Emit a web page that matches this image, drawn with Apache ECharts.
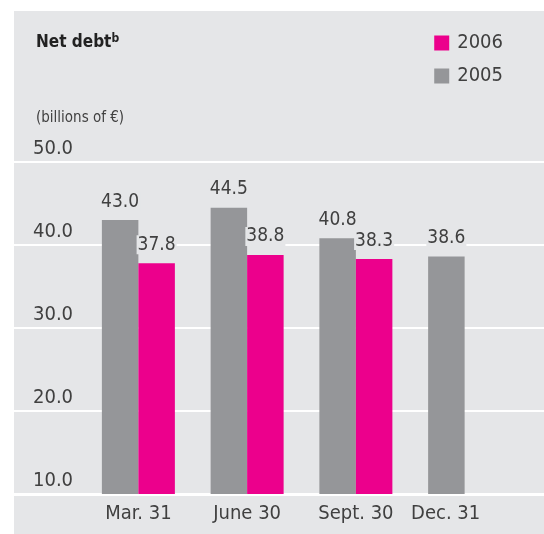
<!DOCTYPE html>
<html>
<head>
<meta charset="utf-8">
<script src="https://cdn.jsdelivr.net/npm/echarts@6/dist/echarts.min.js"></script>
<style>
  html, body { margin: 0; padding: 0; background: #fff; }
  #chart { width: 544px; height: 534px; }
</style>
</head>
<body>
<div id="chart"></div>
<script>
// data
var quarters = ['Mar. 31', 'June 30', 'Sept. 30', 'Dec. 31'];
var debt2005 = [43.0, 44.5, 40.8, 38.6];
var debt2006 = [37.8, 38.8, 38.3, null];
var yTicks = [10, 20, 30, 40, 50];

var FONT = '"Liberation Sans Narrow", "DejaVu Sans Condensed", sans-serif';
var TXT = '#404040';
var PANEL = '#e5e6e8';

var myChart = echarts.init(document.getElementById('chart'));

// the last label sits under the lone 2005 bar
var catData = quarters.map(function (q, i) {
    if (debt2006[i] == null) {
        return { value: q, textStyle: { padding: [0, 38, 0, 0] } };
    }
    return q;
});

function valueLabel() {
    return {
        show: true,
        position: 'top',
        distance: 9,
        fontFamily: FONT,
        fontSize: 19,
        color: TXT,
        backgroundColor: PANEL,
        padding: [0, 1, 0, 1],
        formatter: function (p) { return p.value == null ? '' : p.value.toFixed(1); }
    };
}

var option = {
    backgroundColor: '#fff',
    animation: false,
    textStyle: { fontFamily: FONT },
    graphic: [{
        type: 'rect',
        z: -10,
        shape: { x: 14, y: 11, width: 530, height: 523 },
        style: { fill: PANEL }
    }],
    title: [{
        text: '{a|Net debt}{b|b}',
        left: 31,
        top: 28,
        textStyle: {
            rich: {
                a: { fontFamily: FONT, fontWeight: 'bold', fontSize: 17, color: '#222' },
                b: { fontFamily: FONT, fontWeight: 'bold', fontSize: 12, color: '#222', verticalAlign: 'top', padding: [0, 0, 8, 0] }
            }
        }
    }, {
        text: '(billions of €)',
        left: 31,
        top: 106,
        textStyle: { fontFamily: FONT, fontWeight: 'normal', fontSize: 15, color: TXT }
    }],
    legend: {
        data: ['2006', '2005'],
        orient: 'vertical',
        right: 36,
        top: 28,
        itemWidth: 15,
        itemHeight: 15,
        itemGap: 13,
        icon: 'rect',
        textStyle: { fontFamily: FONT, fontSize: 20, color: TXT, padding: [0, 0, 0, 3] }
    },
    grid: [
        { left: 14, right: 0, top: 162, bottom: 40 },
        { left: 84, right: 25, top: 162, bottom: 40 }
    ],
    xAxis: [{
        gridIndex: 0,
        type: 'value',
        min: 0, max: 1,
        axisLine: { show: true, onZero: false, lineStyle: { color: '#fff', width: 3 } },
        axisTick: { show: false },
        axisLabel: { show: false },
        splitLine: { show: false }
    }, {
        gridIndex: 1,
        type: 'category',
        data: catData,
        axisLine: { show: false },
        axisTick: { show: false },
        splitLine: { show: false },
        axisLabel: { fontFamily: FONT, fontSize: 20, color: TXT, margin: 10, interval: 0 }
    }],
    yAxis: [{
        gridIndex: 0,
        type: 'value',
        min: yTicks[0],
        max: yTicks[yTicks.length - 1],
        interval: 10,
        axisLine: { show: false },
        axisTick: { show: false },
        splitLine: { show: true, lineStyle: { color: '#fff', width: 2 } },
        axisLabel: {
            inside: true,
            margin: 19,
            align: 'left',
            verticalAlign: 'bottom',
            padding: [0, 0, 3, 0],
            fontFamily: FONT,
            fontSize: 20,
            color: TXT,
            formatter: function (v) { return v.toFixed(1); }
        }
    }, {
        gridIndex: 1,
        type: 'value',
        min: yTicks[0],
        max: yTicks[yTicks.length - 1],
        interval: 10,
        show: false,
        splitLine: { show: false }
    }],
    series: [{
        name: '2005',
        type: 'bar',
        xAxisIndex: 1,
        yAxisIndex: 1,
        barWidth: 36.5,
        barGap: '0%',
        itemStyle: { color: '#959699' },
        label: valueLabel(),
        data: debt2005
    }, {
        name: '2006',
        type: 'bar',
        xAxisIndex: 1,
        yAxisIndex: 1,
        barWidth: 36.5,
        barGap: '0%',
        itemStyle: { color: '#ec008c' },
        label: valueLabel(),
        data: debt2006
    }]
};

myChart.setOption(option);
</script>
</body>
</html>
